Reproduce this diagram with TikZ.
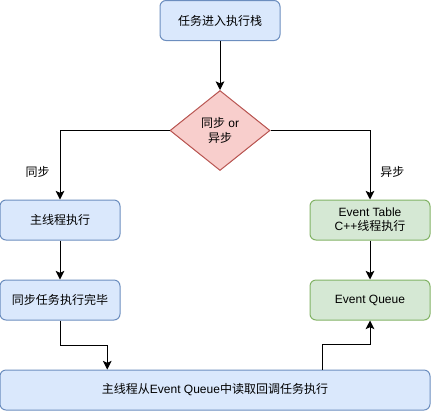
\documentclass[tikz,border=0pt]{standalone}
\usepackage{fontspec}
\setmainfont{Liberation Sans}
\newfontfamily\cjk{Noto Sans CJK SC}
\usepackage{tikz}
\usetikzlibrary{shapes.geometric,arrows.meta,positioning,calc}
\definecolor{blueFill}{HTML}{DAE8FC}
\definecolor{blueLine}{HTML}{6C8EBF}
\definecolor{redFill}{HTML}{F8CECC}
\definecolor{redLine}{HTML}{B85450}
\definecolor{greenFill}{HTML}{D5E8D4}
\definecolor{greenLine}{HTML}{82B366}
\newcommand\zh[1]{{\cjk #1}}

\tikzset{
    box/.style={rounded corners=4.5pt, minimum width=90pt, minimum height=30pt,
        align=center, inner sep=2pt, line width=0.75pt, font=\fontsize{9}{10.5}\selectfont},
    bluebox/.style={box, draw=blueLine, fill=blueFill},
    greenbox/.style={box, draw=greenLine, fill=greenFill},
    choice/.style={diamond, draw=redLine, fill=redFill, line width=0.75pt, inner sep=0pt,
        aspect=1.25, minimum width=75pt, minimum height=60pt, align=center,
        font=\fontsize{9}{11}\selectfont},
    arr/.style={-{Stealth[length=6.5pt,width=6.5pt,inset=1.5pt]}, line width=0.75pt},
    lbl/.style={font=\fontsize{9}{11}\selectfont}
}

\begin{document}
\begin{tikzpicture}[x=0.75pt,y=-0.75pt]
    \useasboundingbox (0,0) rectangle (431,411);

    % Boxes
    \node[bluebox] (stack) at (220,20.5) {\zh{任务进入执行栈}};
    \node[choice] (cond) at (220,130.5) {\zh{同步} or\\\zh{异步}};
    \node[bluebox] (sync) at (60,220) {\zh{主线程执行}};
    \node[bluebox] (done) at (60,300) {\zh{同步任务执行完毕}};
    \node[greenbox] (table) at (370,220) {Event Table\\C++\zh{线程执行}};
    \node[greenbox] (queue) at (370,300) {Event Queue};
    \node[bluebox, minimum width=322.5pt] (main) at (215,390) {\zh{主线程从}Event Queue\zh{中读取回调任务执行}};

    % Connections
    \draw[arr] (stack) -- (cond);
    \draw[arr] (cond.west) -| node[lbl, pos=0.8, left=4pt] {\zh{同步}} (sync.north);
    \draw[arr] (cond.east) -| node[lbl, pos=0.8, right=4pt] {\zh{异步}} (table.north);
    \draw[arr] (sync) -- (done);
    \draw[arr] (table) -- (queue);
    \draw[arr] (done.south) -- ++(0,25) -| ($(main.north west)!0.25!(main.north east)$);
    \draw[arr] ($(main.north west)!0.75!(main.north east)$) -- ++(0,-25) -| (queue.south);
\end{tikzpicture}
\end{document}
